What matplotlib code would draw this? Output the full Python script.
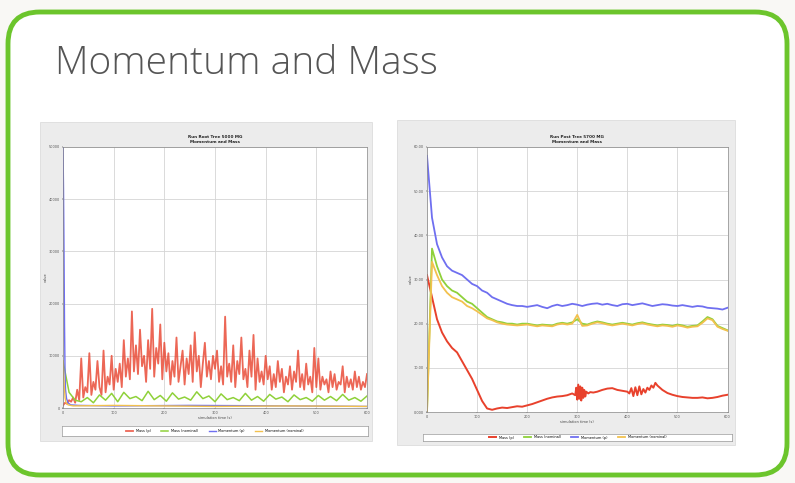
import matplotlib
matplotlib.use("Agg")
import matplotlib.pyplot as plt
from matplotlib.patches import FancyBboxPatch, Rectangle
import numpy as np

# ---- data: left chart (values in thousands) ----
left_red = [0.5, 1.0, 0.8, 1.5, 1.2, 2.0, 1.0, 3.5, 1.5, 9.5, 2.0, 4.0, 3.0, 10.5, 2.5, 5.0, 3.5, 9.0, 4.0, 2.5,
            11.0, 3.0, 6.0, 4.5, 10.0, 3.5, 7.5, 5.0, 8.5, 4.0, 13.0, 6.0, 9.5, 5.5, 18.5, 7.0, 12.0, 6.5, 15.0, 8.0,
            10.0, 5.0, 13.0, 7.5, 19.0, 6.0, 11.5, 8.5, 16.0, 5.5, 12.5, 7.0, 10.5, 4.5, 9.0, 6.0, 13.5, 5.0, 8.0, 11.0,
            4.5, 9.5, 6.5, 12.0, 5.0, 14.5, 7.0, 10.0, 4.0, 8.5, 12.5, 6.0, 9.0, 5.5, 10.0, 7.5, 11.0, 5.0, 8.0, 4.5,
            17.5, 6.0, 8.5, 5.0, 12.0, 4.0, 9.0, 6.5, 13.5, 5.5, 7.5, 4.0, 11.0, 6.0, 14.0, 3.5, 9.5, 5.0, 7.0, 4.5,
            10.0, 5.5, 8.0, 3.5, 6.5, 4.0, 9.0, 5.0, 7.5, 3.0, 6.0, 4.5, 8.0, 3.5, 7.0, 5.0, 11.0, 4.0, 6.5, 3.5,
            8.5, 4.5, 6.0, 3.0, 11.5, 4.0, 9.5, 3.5, 6.0, 4.5, 5.5, 3.0, 7.0, 4.0, 6.5, 3.5, 5.0, 4.5, 8.0, 3.0,
            6.0, 4.0, 5.5, 3.5, 7.0, 4.0, 6.0, 3.5, 5.0, 4.0, 6.5]
left_green = [9.0, 3.0, 1.5, 1.2, 2.0, 1.0, 2.5, 1.5, 2.8, 1.2, 3.0, 1.8, 2.2, 1.4, 3.2, 1.6, 2.4, 1.3, 2.9, 1.7,
              2.1, 1.5, 3.1, 1.8, 2.3, 1.2, 2.7, 1.6, 2.0, 1.4, 2.8, 1.5, 2.2, 1.3, 2.6, 1.7, 2.1, 1.2, 2.5, 1.6,
              2.0, 1.3, 2.4, 1.5, 2.2, 1.4, 2.6, 1.5, 2.0, 1.3, 2.3]
left_blue = [50.0, 42.0, 30.0, 16.0, 7.0, 3.5, 1.8, 1.0, 0.6, 0.5, 0.4, 0.5, 0.4, 0.3]
left_blue_x = [0, 1, 2, 3, 4, 5, 7, 10, 15, 30, 100, 250, 450, 600]
left_yellow = [9.0, 5.0, 2.0, 1.0, 0.6, 0.4, 0.5, 0.3, 0.4, 0.3]
left_yellow_x = [0, 2, 4, 6, 10, 20, 100, 300, 450, 600]

# ---- data: right chart ----
right_x = list(range(0, 601, 10))
right_blue = [58, 44, 38, 35, 33, 32, 31.5, 31, 30, 29,
              28.5, 27.5, 27, 26, 25.5, 25, 24.5, 24.2, 24, 24,
              23.8, 24, 24.2, 23.8, 23.5, 24, 24.3, 24, 24.2, 24.5,
              24.3, 24, 24.3, 24.5, 24.6, 24.3, 24.5, 24.2, 24, 24.4,
              24.5, 24.2, 24.4, 24.6, 24.3, 24, 24.2, 24.4, 24.3, 24.1,
              24, 24.2, 24, 23.8, 24, 23.9, 23.6, 23.5, 23.4, 23.2,
              23.6]
right_green = [0, 37, 33, 30, 28.5, 27.5, 27, 26, 25, 24.5,
               23.5, 22.5, 21.5, 21, 20.5, 20.3, 20, 20, 19.8, 20,
               20, 19.8, 19.6, 19.8, 19.7, 19.6, 20, 20.2, 20, 20.3,
               21, 20, 19.8, 20.2, 20.5, 20.3, 20, 19.8, 20, 20.2,
               20, 19.8, 20.1, 20.3, 20, 19.8, 19.6, 19.8, 19.7, 19.5,
               19.8, 19.6, 19.3, 19.5, 19.6, 20.5, 21.5, 21, 19.5, 19,
               18.5]
right_yellow = [0, 34, 31, 28.5, 27, 26, 25.5, 25, 24, 23.5,
                22.8, 22, 21.2, 20.8, 20.3, 20, 19.8, 19.7, 19.6, 19.7,
                19.8, 19.6, 19.4, 19.6, 19.5, 19.4, 19.8, 20, 19.8, 20,
                22, 19.5, 19.6, 20, 20.3, 20.1, 19.8, 19.6, 19.8, 20,
                19.8, 19.6, 19.9, 20.1, 19.8, 19.6, 19.4, 19.6, 19.5, 19.3,
                19.6, 19.4, 19.1, 19.3, 19.4, 20.2, 21.2, 20.8, 19.3, 18.8,
                18.4]
right_red_x = [0, 10, 20, 30, 40, 50, 60, 70, 80, 90, 100, 110, 120, 130, 140,
               150, 160, 170, 180, 190, 200, 210, 220, 230, 240, 250, 260, 270, 280, 290,
               296, 298, 300, 302, 304, 306, 308, 310, 312, 314, 316, 318, 322, 326, 332,
               340, 350, 360, 370, 380, 390, 400,
               404, 408, 412, 416, 420, 424, 428, 432, 436, 440, 444, 448, 452, 456, 460,
               470, 480, 490, 500, 510, 520, 530, 540, 550, 560, 570, 580, 590, 600]
right_red = [31, 26, 21, 18, 16, 14.5, 13.5, 11.5, 9.5, 7.5, 5, 2.5, 0.8, 0.5, 0.8,
             1, 0.9, 1.1, 1.3, 1.2, 1.5, 1.8, 2.2, 2.6, 3.0, 3.3, 3.5, 3.6, 3.8, 4.2,
             3.8, 5.5, 2.8, 6.2, 3.0, 5.8, 2.6, 5.5, 3.2, 5.0, 3.5, 4.6, 4.2, 4.5, 4.4,
             4.6, 5.0, 5.3, 5.4, 5.0, 4.8, 4.6,
             4.2, 5.4, 3.6, 5.6, 3.8, 5.8, 4.0, 5.2, 4.4, 5.5, 5.0, 6.0, 5.5, 6.6, 6.0,
             5.0, 4.3, 3.9, 3.6, 3.4, 3.3, 3.2, 3.2, 3.3, 3.1, 3.2, 3.4, 3.7, 3.9]

legend_labels = ["Mass (p)", "Mass (nominal)", "Momentum (p)", "Momentum (nominal)"]
x_ticks = [0, 100, 200, 300, 400, 500, 600]

RED = "#e8412c"
GREEN = "#8fd13a"
BLUE = "#6f6ff0"
YELLOW = "#f2c14e"

fig = plt.figure(figsize=(7.95, 4.83), dpi=100)
fig.patch.set_facecolor("#f9f8f5")
W, H = 795.0, 483.0


def fx(px):
    return px / W


def fy(py):
    return 1 - py / H


# green rounded frame
frame = FancyBboxPatch((fx(8), fy(475)), fx(779), 463 / H,
                       boxstyle="round,pad=0,rounding_size=0.04",
                       transform=fig.transFigure, facecolor="white",
                       edgecolor="#6cc52c", linewidth=3.5, mutation_aspect=W / H, zorder=-3)
fig.patches.append(frame)

fig.text(fx(55), fy(64), "Momentum and Mass", fontsize=28, color="#555555",
         family="Open Sans", fontweight="light", va="center", ha="left")


def panel(x0, y0, x1, y1):
    r = Rectangle((fx(x0), fy(y1)), fx(x1 - x0), (y1 - y0) / H,
                  transform=fig.transFigure, facecolor="#ececec", edgecolor="#d8d8d8", lw=0.5, zorder=-2)
    fig.patches.append(r)


def style_axes(ax, ylim, yticks, ylabels, title):
    ax.set_xlim(0, 600)
    ax.set_ylim(*ylim)
    ax.set_xticks(x_ticks)
    ax.set_xticklabels([str(t) for t in x_ticks], fontsize=2.5, color="#555555")
    ax.set_yticks(yticks)
    ax.set_yticklabels(ylabels, fontsize=2.5, color="#555555")
    ax.tick_params(length=1, width=0.3, pad=1)
    ax.grid(True, color="#d5d5d5", linewidth=0.6)
    for s in ax.spines.values():
        s.set_color("#888888")
        s.set_linewidth(0.5)
    ax.set_title(title, fontsize=3, fontweight="bold", pad=3, color="#222222")
    ax.set_xlabel("simulation time (s)", fontsize=2.5, labelpad=1, color="#444444")
    ax.set_ylabel("value", fontsize=2.5, labelpad=1, color="#444444")


def add_legend(ax, x0, y0, x1, y1):
    lax = fig.add_axes([fx(x0), fy(y1), fx(x1 - x0), (y1 - y0) / H])
    lax.set_xticks([])
    lax.set_yticks([])
    for s in lax.spines.values():
        s.set_color("#999999")
        s.set_linewidth(0.5)
    handles = ax.get_lines()
    lax.legend(handles, legend_labels, loc="center", ncol=4, fontsize=2.5, frameon=False,
               handlelength=2, columnspacing=3, borderpad=0)


# ---------- left chart ----------
panel(40, 122, 372, 441)
axl = fig.add_axes([fx(63), fy(408), fx(304), 261 / H])
left_x = np.linspace(0, 600, len(left_red))
left_gx = np.linspace(0, 600, len(left_green))
axl.plot(left_x, [v * 1000 for v in left_red], color=RED, lw=1.3, alpha=0.8)
axl.plot(left_gx, [v * 1000 for v in left_green], color=GREEN, lw=1.1)
axl.plot(left_blue_x, [v * 1000 for v in left_blue], color=BLUE, lw=1.0)
axl.plot(left_yellow_x, [v * 1000 for v in left_yellow], color=YELLOW, lw=1.0)
style_axes(axl, (0, 50000), [0, 10000, 20000, 30000, 40000, 50000],
           ["0", "10000", "20000", "30000", "40000", "50000"],
           "Run Root Tree 5000 MG\nMomentum and Mass")
add_legend(axl, 62, 426, 368, 436)

# ---------- right chart ----------
panel(397, 120, 735, 445)
axr = fig.add_axes([fx(427), fy(412), fx(300.5), 265 / H])
axr.plot(right_red_x, right_red, color=RED, lw=1.4)
axr.plot(right_x, right_green, color=GREEN, lw=1.3)
axr.plot(right_x, right_blue, color=BLUE, lw=1.3)
axr.plot(right_x, right_yellow, color=YELLOW, lw=1.3)
style_axes(axr, (0, 60), [0, 10, 20, 30, 40, 50, 60],
           ["0.000", "10.00", "20.00", "30.00", "40.00", "50.00", "60.00"],
           "Run Post Tree 5700 MG\nMomentum and Mass")
add_legend(axr, 423, 434, 732, 441)

fig.savefig("out.png", dpi=100)
